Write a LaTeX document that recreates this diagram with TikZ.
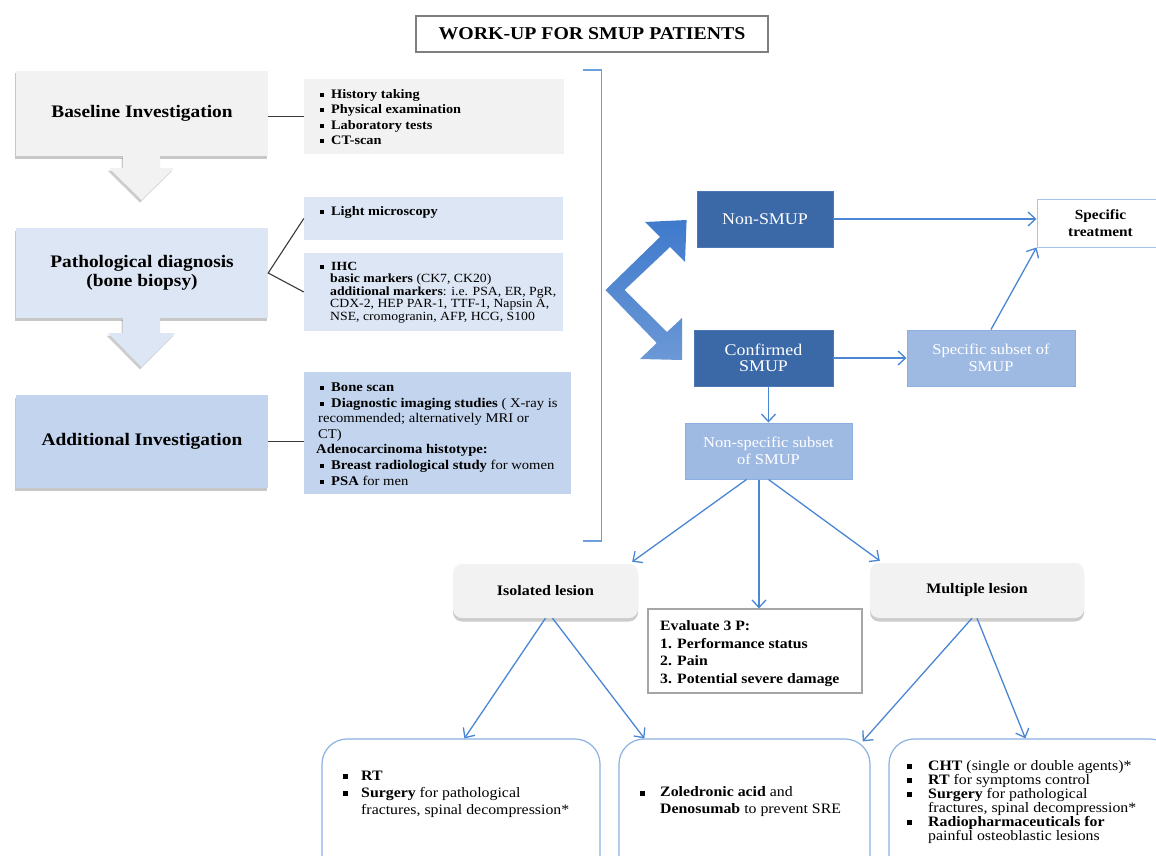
\documentclass[tikz,border=0pt]{standalone}
\usepackage{fontspec}
\setmainfont[FakeStretch=1.1]{Liberation Serif}
\usetikzlibrary{arrows.meta,shadows,calc}
\definecolor{cgray}{HTML}{F2F2F2}
\definecolor{clight}{HTML}{DDE6F4}
\definecolor{cmid}{HTML}{C3D4EE}
\definecolor{cdark}{HTML}{3B68A6}
\definecolor{cdarkb}{HTML}{4C78B5}
\definecolor{csub}{HTML}{9EBAE3}
\definecolor{csubb}{HTML}{8DAEE0}
\definecolor{carrow}{HTML}{4A86D4}
\definecolor{cbracket}{HTML}{6E9EDC}
\definecolor{cbb}{HTML}{8CB2E3}
\definecolor{cevb}{HTML}{A6A6A6}
\definecolor{ctitle}{HTML}{7F7F7F}
\definecolor{ctb}{HTML}{A9C4EB}
\definecolor{cline}{HTML}{3A3A3A}
\definecolor{cchevtop}{HTML}{3F7ACC}
\definecolor{cchevbot}{HTML}{6B98D6}
\newcommand{\sqb}{\rule[0.1em]{0.32em}{0.32em}}
\newcommand{\itm}[2][11pt]{\makebox[#1][l]{\sqb}#2}
\begin{document}
\begin{tikzpicture}[x=1pt,y=-1pt,
  lbox/.style={draw=none, minimum width=252pt, inner sep=0pt, align=center,
    font=\fontsize{17.6}{19.5}\selectfont\bfseries,
    drop shadow={shadow xshift=-1.5pt,shadow yshift=-2.5pt,opacity=0.22,fill=black}},
  ibox/.style={draw=none, inner sep=0pt},
  dbox/.style={fill=cdark, draw=cdarkb, line width=0.8pt, text=white, inner sep=0pt,
    align=center, font=\fontsize{16.3}{16.5}\selectfont},
  sbox/.style={fill=csub, draw=csubb, line width=1pt, text=white, inner sep=0pt,
    align=center, font=\fontsize{15}{16.5}\selectfont},
  lesion/.style={rounded corners=9pt, fill=cgray, draw=none, inner sep=0pt,
    font=\fontsize{14.5}{16}\selectfont\bfseries,
    drop shadow={shadow xshift=0pt,shadow yshift=-3.5pt,opacity=0.2,fill=black}},
  bbox/.style={rounded corners=25pt, draw=cbb, line width=1.2pt, fill=white, inner sep=0pt},
  arr/.style={draw=carrow, line width=1.3pt, -{Straight Barb[length=7.5pt,width=14pt]}},
  gline/.style={draw=cline, line width=1.5pt},
  txt/.style={inner sep=0pt, align=left, anchor=west},
  barrow/.style={drop shadow={shadow xshift=-1.5pt,shadow yshift=-2.5pt,opacity=0.2,fill=black}}
]
\useasboundingbox (0,0) rectangle (1156,856);
\clip (0,0) rectangle (1156,856);
\fill[white] (0,0) rectangle (1156,856);

% title
\node[draw=ctitle, line width=1.5pt, minimum width=352pt, minimum height=36pt, inner sep=0pt,
  font=\fontsize{18}{20}\selectfont\bfseries] (title) at (592,34) {WORK-UP FOR SMUP PATIENTS};

% left column
\node[lbox, fill=cgray, minimum height=85pt] (base) at (142,113.5) {Baseline Investigation};
\node[lbox, fill=clight, minimum height=90pt] (patho) at (142,273) {Pathological diagnosis\\(bone biopsy)};
\node[lbox, fill=cmid, minimum height=93pt] (addi) at (142,441.5) {Additional Investigation};

\fill[cgray, barrow] (123,155.5) -- (160,155.5) -- (160,168) -- (174,168) -- (141.5,200) -- (109,168) -- (123,168) -- cycle;
\fill[clight, barrow] (123,317.5) -- (160,317.5) -- (160,333) -- (175,333) -- (141.5,367) -- (108,333) -- (123,333) -- cycle;

% info boxes
\node[ibox, fill=cgray, minimum width=260pt, minimum height=75pt] (hist) at (434,116.5) {};
\node[ibox, fill=clight, minimum width=259pt, minimum height=43pt] (light) at (433.5,218.5) {};
\node[ibox, fill=clight, minimum width=259pt, minimum height=78pt] (ihc) at (433.5,292) {};
\node[ibox, fill=cmid, minimum width=267pt, minimum height=122pt] (more) at (437.5,433) {};

\node[txt, font=\fontsize{13}{15.3}\selectfont\bfseries] (histt) at (320,117)
  {\itm{History taking}\\\itm{Physical examination}\\\itm{Laboratory tests}\\\itm{CT-scan}};
\node[txt, font=\fontsize{13}{15}\selectfont\bfseries] (lightt) at (320,212.5) {\itm{Light microscopy}};
\node[txt, font=\fontsize{12.5}{12.5}\selectfont] (ihct) at (320,292.5)
  {\itm{\textbf{IHC}}\\\hspace*{10pt}\textbf{basic markers} (CK7, CK20)\\
   \hspace*{10pt}\textbf{additional markers}: i.e. PSA, ER, PgR,\\
   \hspace*{10pt}CDX-2, HEP PAR-1, TTF-1, Napsin A,\\
   \hspace*{10pt}NSE, cromogranin, AFP, HCG, S100};
\node[txt, font=\fontsize{13.3}{15.6}\selectfont] (moret) at (316,434)
  {\hspace*{4pt}\itm{\textbf{Bone scan}}\\
   \hspace*{4pt}\itm{\textbf{Diagnostic imaging studies} ( X-ray is}\\
   \hspace*{2pt}recommended; alternatively MRI or\\
   \hspace*{2pt}CT)\\
   \textbf{Adenocarcinoma histotype:}\\
   \hspace*{4pt}\itm{\textbf{Breast radiological study} for women}\\
   \hspace*{4pt}\itm{\textbf{PSA} for men}};

\draw[gline] (hist.west -| base.east) -- (hist.west);
\draw[gline, line width=1.1pt] (light.west) -- (patho.east) -- (ihc.west);
\draw[gline] (addi.east) -- (addi.east -| more.west);

% bracket
\draw[cbracket, line width=1.5pt] (583,70) -- (601.5,70) -- (601.5,541) -- (583,541);

% chevron
\shade[top color=cchevtop, bottom color=cchevbot] (686.6,220) -- (645,222) -- (660,237) -- (605.5,290)
  -- (656.7,343) -- (640,359) -- (682,360) -- (682,318) -- (667,332) -- (624.5,290)
  -- (670,247) -- (685,262) -- cycle;

% right part
\node[dbox, minimum width=136pt, minimum height=56pt] (nonsmup) at (765,219) {Non-SMUP};
\node[dbox, minimum width=139pt, minimum height=56pt] (confirmed) at (763.5,358) {Confirmed\\SMUP};
\node[draw=ctb, line width=1pt, fill=white, minimum width=127pt, minimum height=48pt, inner sep=0pt,
  align=center, font=\fontsize{14}{17}\selectfont\bfseries] (spectreat) at (1100.5,223) {Specific\\treatment};
\node[sbox, minimum width=168pt, minimum height=56pt] (specsub) at (991,358) {Specific subset of\\SMUP};
\node[sbox, minimum width=167pt, minimum height=56pt] (nonspec) at (768.5,451) {Non-specific subset\\of SMUP};

\node[lesion, minimum width=185pt, minimum height=54pt] (isol) at (545.5,591) {Isolated lesion};
\node[lesion, minimum width=214pt, minimum height=55pt] (mult) at (977,590.5) {Multiple lesion};

\node[draw=cevb, line width=1.2pt, fill=white, minimum width=214pt, minimum height=84pt, inner sep=0pt] (evalb) at (755,651) {};
\node[txt, font=\fontsize{14.3}{17.5}\selectfont\bfseries] (evalt) at (660,653.5)
  {Evaluate 3 P:\\1. Performance status\\2. Pain\\3. Potential severe damage};

\node[bbox, minimum width=278pt, minimum height=141pt] (botA) at (461,809.5) {};
\node[bbox, minimum width=251pt, minimum height=141pt] (botB) at (744.5,809.5) {};
\node[bbox, minimum width=286pt, minimum height=141pt] (botC) at (1032,809.5) {};

\node[txt, font=\fontsize{14.4}{17}\selectfont] (botAt) at (343,794)
  {\itm[18pt]{\textbf{RT}}\\\itm[18pt]{\textbf{Surgery} for pathological}\\\hspace*{18pt}fractures, spinal decompression*};
\node[txt, font=\fontsize{14.4}{17}\selectfont] (botBt) at (640,802)
  {\itm[20pt]{\textbf{Zoledronic acid} and}\\\hspace*{20pt}\textbf{Denosumab} to prevent SRE};
\node[txt, font=\fontsize{14.4}{14}\selectfont] (botCt) at (907,802)
  {\itm[21pt]{\textbf{CHT} (single or double agents)*}\\\itm[21pt]{\textbf{RT} for symptoms control}\\
   \itm[21pt]{\textbf{Surgery} for pathological}\\\hspace*{21pt}fractures, spinal decompression*\\
   \itm[21pt]{\textbf{Radiopharmaceuticals for}}\\\hspace*{21pt}painful osteoblastic lesions};

% connectors
\draw[arr] (nonsmup.east) -- (nonsmup.east -| spectreat.west);
\draw[arr] (confirmed.east) -- (specsub.west);
\draw[arr] (specsub.north) -- (spectreat.south west);
\draw[arr] (nonspec.north |- confirmed.south) -- (nonspec.north);
\draw[arr] ([xshift=-22pt]nonspec.south) -- ([xshift=-6pt,yshift=2pt]isol.north east);
\draw[arr] ([xshift=-9.5pt]nonspec.south) -- ([xshift=-9.5pt]nonspec.south |- evalb.north);
\draw[arr] (nonspec.south) -- ([xshift=10pt,yshift=2pt]mult.north west);
\draw[arr] (isol.south) -- ([xshift=143pt]botA.north west);
\draw[arr] ([xshift=7pt]isol.south) -- ([xshift=26pt]botB.north west);
\draw[arr] ([xshift=-5pt]mult.south) -- ([xshift=-8pt,yshift=-3pt]botB.north east);
\draw[arr] (mult.south) -- ([xshift=137pt]botC.north west);
\end{tikzpicture}
\end{document}
